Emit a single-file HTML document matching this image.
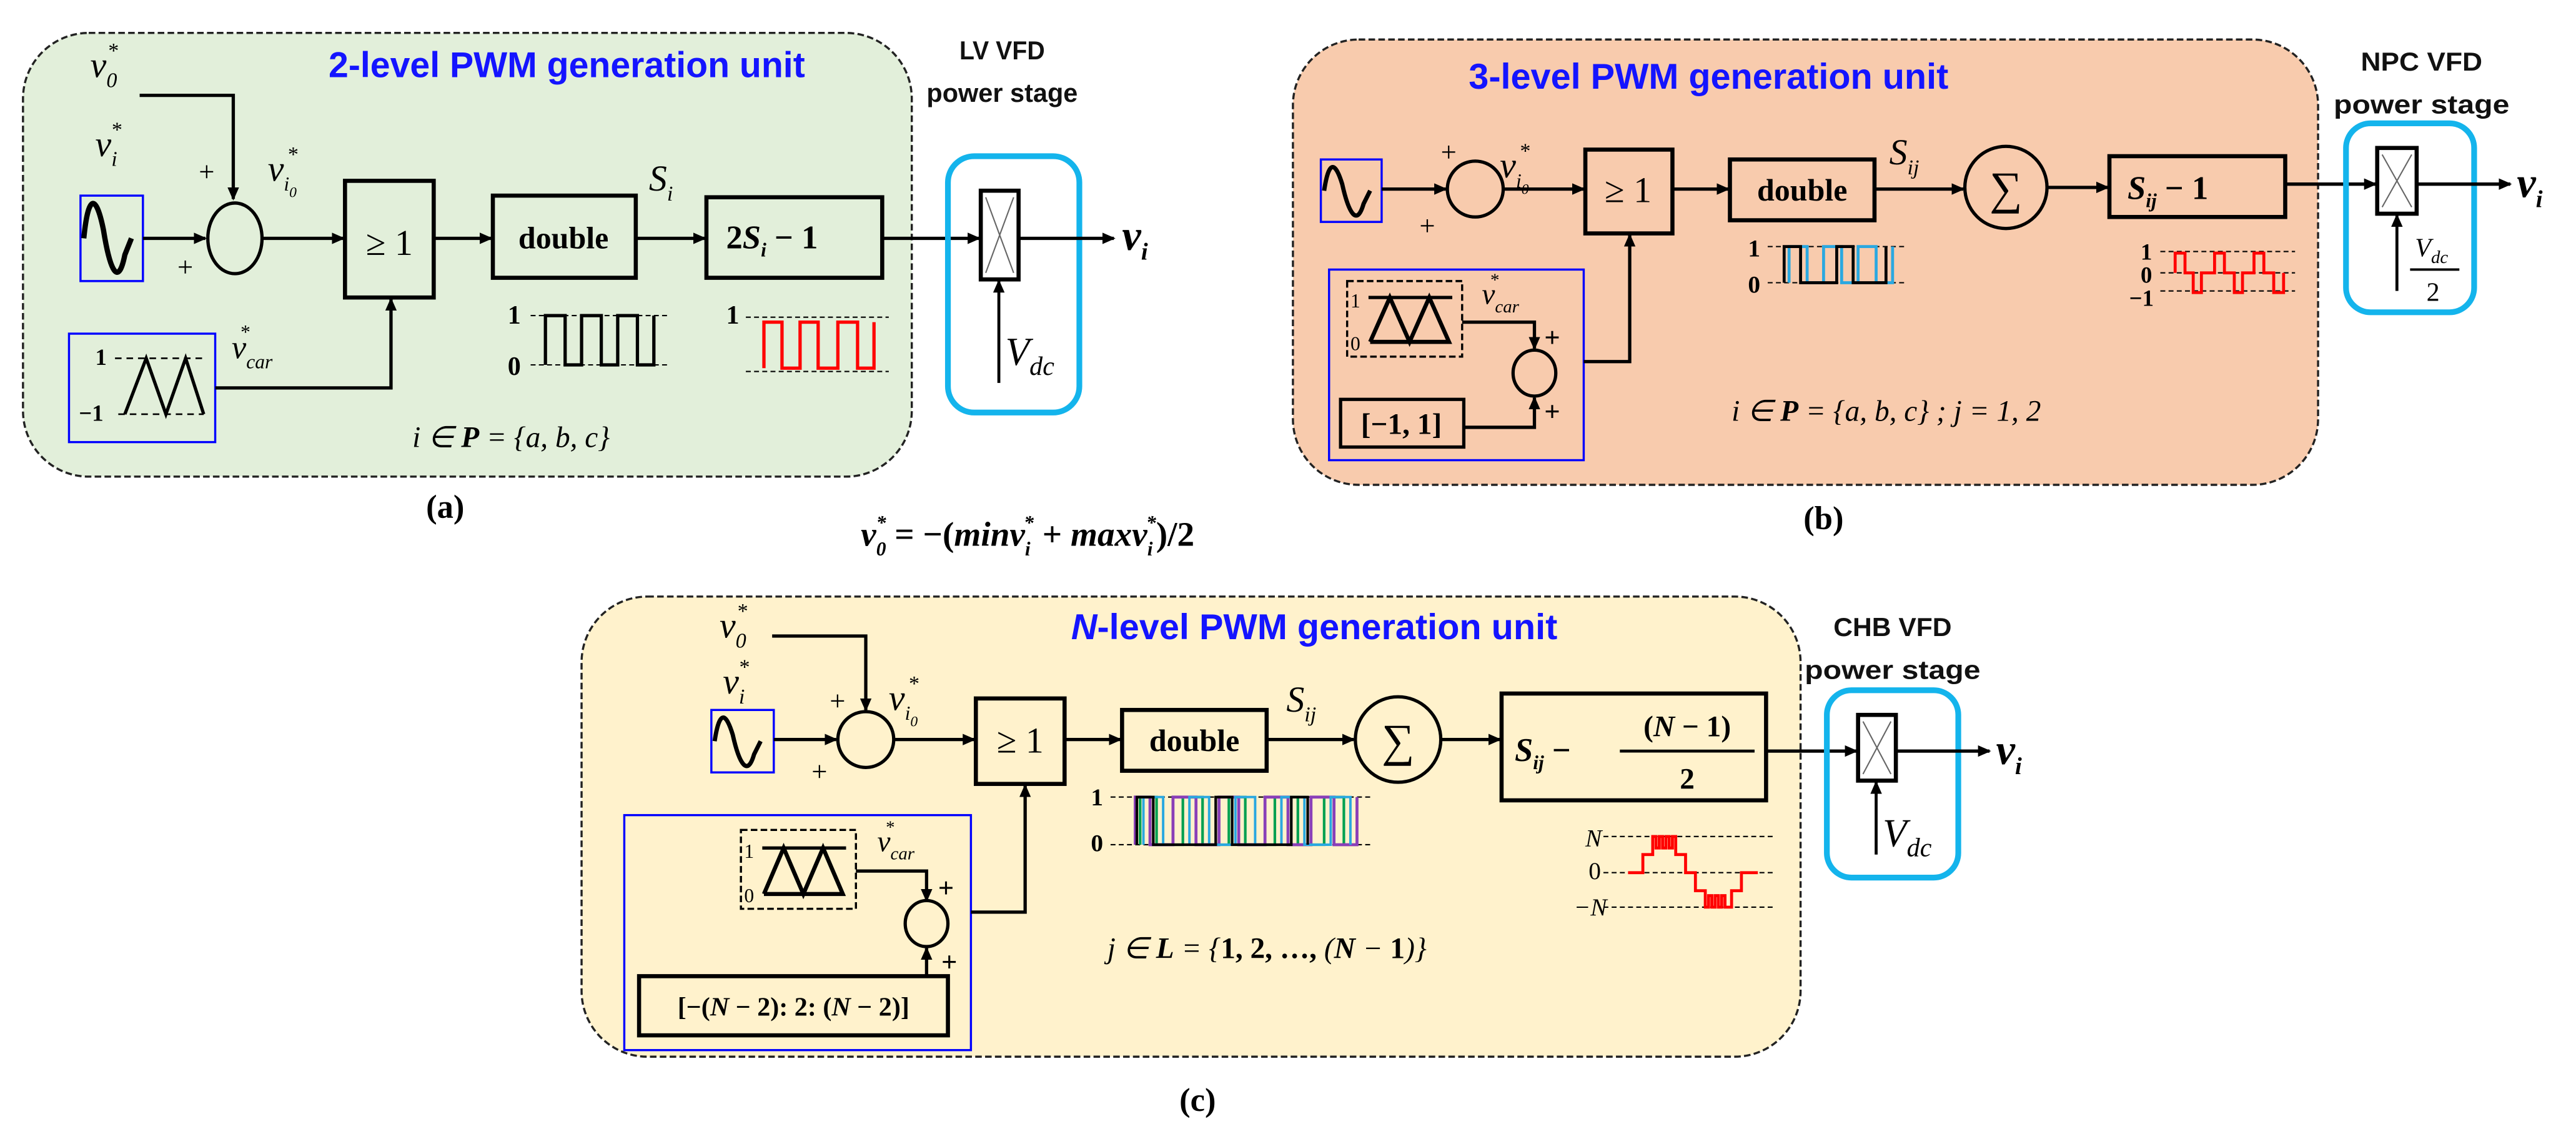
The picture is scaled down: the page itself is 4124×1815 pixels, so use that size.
<!DOCTYPE html>
<html><head><meta charset="utf-8"><style>
html,body{margin:0;padding:0;background:#fff;}
svg{display:block;}
.m{font-family:"Liberation Serif",serif;font-style:italic;}
.r{font-family:"Liberation Serif",serif;}
.t{font-family:"Liberation Sans",sans-serif;font-weight:bold;fill:#1414ff;}
.h{font-family:"Liberation Sans",sans-serif;font-weight:bold;fill:#111;}
</style></head><body>
<svg width="4124" height="1815" viewBox="0 0 1568 690" xmlns="http://www.w3.org/2000/svg">
<defs>
<marker id="a" markerWidth="8" markerHeight="8" refX="7" refY="4" orient="auto" markerUnits="userSpaceOnUse"><path d="M0,0.5 L8,4 L0,7.5 z" fill="#000"/></marker>
</defs>
<g stroke-linecap="butt">
<!-- ===== panel a ===== -->
<rect x="14" y="20" width="541" height="270" rx="40" fill="#e2efda" stroke="#222" stroke-width="1.3" stroke-dasharray="4,2"/>
<text class="t" x="345" y="47" font-size="22" text-anchor="middle" textLength="290" lengthAdjust="spacingAndGlyphs">2-level PWM  generation unit</text>
<text class="h" x="610" y="36" font-size="16" text-anchor="middle" textLength="52" lengthAdjust="spacingAndGlyphs">LV VFD</text>
<text class="h" x="610" y="62" font-size="16" text-anchor="middle" textLength="92" lengthAdjust="spacingAndGlyphs">power stage</text>
<text class="m" x="55" y="47" font-size="22">v<tspan font-size="13" dy="6">0</tspan><tspan font-size="13" dx="-6" dy="-18">*</tspan></text>
<polyline points="85,58 142,58 142,121" fill="none" stroke="#000" stroke-width="2" marker-end="url(#a)"/>
<text class="m" x="58" y="95" font-size="22">v<tspan font-size="13" dy="6">i</tspan><tspan font-size="13" dx="-4" dy="-18">*</tspan></text>
<text class="r" x="121" y="110" font-size="17">+</text>
<text class="r" x="108" y="168" font-size="17">+</text>
<text class="m" x="163" y="110" font-size="22">v<tspan font-size="12" dy="6">i</tspan><tspan font-size="9" dy="4">0</tspan><tspan font-size="13" dx="-6" dy="-22">*</tspan></text>
<rect x="49" y="119" width="38" height="52" fill="none" stroke="#0000ff" stroke-width="1.3"/>
<path d="M51,145 C54,115 59,120 63,140 C67,165 72,175 76,155 L80,145" fill="none" stroke="#000" stroke-width="3.2"/>
<line x1="87" y1="145" x2="125" y2="145" stroke="#000" stroke-width="2" marker-end="url(#a)"/>
<ellipse cx="143" cy="145" rx="16.5" ry="21.5" fill="none" stroke="#000" stroke-width="2"/>
<line x1="160" y1="145" x2="209" y2="145" stroke="#000" stroke-width="2" marker-end="url(#a)"/>
<rect x="210" y="110" width="54" height="71" fill="none" stroke="#000" stroke-width="2.5"/>
<text class="r" x="237" y="155" font-size="22" text-anchor="middle">≥ 1</text>
<line x1="264" y1="145" x2="299" y2="145" stroke="#000" stroke-width="2" marker-end="url(#a)"/>
<rect x="300" y="119" width="87" height="50" fill="none" stroke="#000" stroke-width="2.5"/>
<text class="r" x="343" y="151" font-size="19" font-weight="bold" text-anchor="middle">double</text>
<line x1="387" y1="145" x2="429" y2="145" stroke="#000" stroke-width="2" marker-end="url(#a)"/>
<text class="m" x="395" y="116" font-size="22">S<tspan font-size="13" dy="6">i</tspan></text>
<rect x="430" y="120" width="107" height="49" fill="none" stroke="#000" stroke-width="2.5"/>
<text class="r" x="442" y="151" font-size="20" font-weight="bold">2<tspan font-style="italic">S</tspan><tspan font-size="12" dy="5" font-style="italic">i</tspan><tspan dy="-5">  − 1</tspan></text>
<line x1="537" y1="145" x2="596" y2="145" stroke="#000" stroke-width="2" marker-end="url(#a)"/>
<rect x="577" y="95" width="80" height="156" rx="16" fill="none" stroke="#14b4ec" stroke-width="3.5"/>
<rect x="597" y="116" width="23" height="54" fill="#fff" stroke="#000" stroke-width="2.5"/>
<path d="M600,120 L617,166 M617,120 L600,166" stroke="#666" stroke-width="0.8"/>
<line x1="620" y1="145" x2="678" y2="145" stroke="#000" stroke-width="2" marker-end="url(#a)"/>
<text class="m" x="683" y="152" font-size="26" font-weight="bold">v<tspan font-size="15" dy="6">i</tspan></text>
<line x1="608" y1="233" x2="608" y2="171" stroke="#000" stroke-width="1.8" marker-end="url(#a)"/>
<text class="m" x="612" y="222" font-size="24">V<tspan font-size="16" dy="6">dc</tspan></text>
<rect x="42" y="203" width="89" height="66" fill="none" stroke="#0000ff" stroke-width="1.3"/>
<text class="r" x="58" y="222" font-size="14" font-weight="bold">1</text>
<text class="r" x="48" y="256" font-size="14" font-weight="bold">−1</text>
<path d="M70,218 H124 M72,252 H124" stroke="#000" stroke-width="1" stroke-dasharray="4,3"/>
<polyline points="76,252 89,218 101,252 113,218 124,252" fill="none" stroke="#000" stroke-width="2"/>
<text class="m" x="141" y="218" font-size="20">v<tspan font-size="12" dy="6">car</tspan><tspan font-size="12" dx="-20" dy="-18">*</tspan></text>
<polyline points="131,236 238,236 238,182" fill="none" stroke="#000" stroke-width="2" marker-end="url(#a)"/>
<text class="r" x="309" y="197" font-size="16" font-weight="bold">1</text>
<text class="r" x="309" y="228" font-size="16" font-weight="bold">0</text>
<path d="M323,192 H408 M323,222 H408" stroke="#000" stroke-width="0.8" stroke-dasharray="3,2"/>
<polyline points="332,222 332,192 344,192 344,222 354,222 354,192 366,192 366,222 376,222 376,192 388,192 388,222 398,222 398,192" fill="none" stroke="#000" stroke-width="2"/>
<text class="r" x="442" y="197" font-size="16" font-weight="bold">1</text>
<path d="M454,193 H541 M454,226 H541" stroke="#000" stroke-width="0.8" stroke-dasharray="3,2"/>
<polyline points="465,224 465,196 476,196 476,224 487,224 487,196 498,196 498,224 510,224 510,196 522,196 522,224 532,224 532,196" fill="none" stroke="#ff0000" stroke-width="2"/>
<text class="m" x="251" y="272" font-size="18">i ∈ <tspan font-weight="bold">P</tspan> = {a, b, c}</text>
<text class="r" x="271" y="315" font-size="20" font-weight="bold" text-anchor="middle">(a)</text>

<!-- formula -->
<text class="m" x="524" y="332" font-size="21" font-weight="bold">v<tspan font-size="12" dy="6">0</tspan><tspan font-size="12" dx="-6" dy="-16">*</tspan><tspan dy="10" font-style="normal"> = −(</tspan>minv<tspan font-size="12" dy="6">i</tspan><tspan font-size="12" dx="-4" dy="-16">*</tspan><tspan dy="10" font-style="normal"> + </tspan>maxv<tspan font-size="12" dy="6">i</tspan><tspan font-size="12" dx="-4" dy="-16">*</tspan><tspan dy="10" font-style="normal">)/2</tspan></text>

<!-- ===== panel b ===== -->
<rect x="787" y="24" width="624" height="271" rx="40" fill="#f8cbad" stroke="#222" stroke-width="1.3" stroke-dasharray="4,2"/>
<text class="t" x="1040" y="54" font-size="22" text-anchor="middle" textLength="292" lengthAdjust="spacingAndGlyphs">3-level PWM  generation unit</text>
<text class="h" x="1474" y="43" font-size="16" text-anchor="middle" textLength="74" lengthAdjust="spacingAndGlyphs">NPC VFD</text>
<text class="h" x="1474" y="69" font-size="16" text-anchor="middle" textLength="107" lengthAdjust="spacingAndGlyphs">power stage</text>
<rect x="804" y="97" width="37" height="38" fill="none" stroke="#0000ff" stroke-width="1.3"/>
<path d="M806,116 C809,96 813,99 817,112 C821,130 826,138 830,124 L834,116" fill="none" stroke="#000" stroke-width="2.6"/>
<line x1="841" y1="115" x2="880" y2="115" stroke="#000" stroke-width="2" marker-end="url(#a)"/>
<circle cx="898" cy="115" r="17" fill="none" stroke="#000" stroke-width="2"/>
<text class="r" x="877" y="98" font-size="17">+</text>
<text class="r" x="864" y="143" font-size="17">+</text>
<text class="m" x="913" y="108" font-size="22">v<tspan font-size="12" dy="6">i</tspan><tspan font-size="9" dy="4">0</tspan><tspan font-size="13" dx="-6" dy="-22">*</tspan></text>
<line x1="915" y1="115" x2="964" y2="115" stroke="#000" stroke-width="2" marker-end="url(#a)"/>
<rect x="965" y="91" width="53" height="51" fill="none" stroke="#000" stroke-width="2.5"/>
<text class="r" x="991" y="123" font-size="22" text-anchor="middle">≥ 1</text>
<line x1="1018" y1="115" x2="1052" y2="115" stroke="#000" stroke-width="2" marker-end="url(#a)"/>
<rect x="1053" y="97" width="88" height="37" fill="none" stroke="#000" stroke-width="2.5"/>
<text class="r" x="1097" y="122" font-size="19" font-weight="bold" text-anchor="middle">double</text>
<text class="m" x="1150" y="100" font-size="22">S<tspan font-size="13" dy="6">ij</tspan></text>
<line x1="1141" y1="115" x2="1195" y2="115" stroke="#000" stroke-width="2" marker-end="url(#a)"/>
<circle cx="1221" cy="114" r="25" fill="none" stroke="#000" stroke-width="2"/>
<text class="r" x="1221" y="124" font-size="28" text-anchor="middle">∑</text>
<line x1="1246" y1="114" x2="1283" y2="114" stroke="#000" stroke-width="2" marker-end="url(#a)"/>
<rect x="1284" y="95" width="107" height="37" fill="none" stroke="#000" stroke-width="2.5"/>
<text class="r" x="1295" y="121" font-size="20" font-weight="bold"><tspan font-style="italic">S</tspan><tspan font-size="12" dy="5" font-style="italic">ij</tspan><tspan dy="-5">  − 1</tspan></text>
<line x1="1391" y1="112" x2="1446" y2="112" stroke="#000" stroke-width="2" marker-end="url(#a)"/>
<rect x="1428" y="75" width="78" height="115" rx="15" fill="none" stroke="#14b4ec" stroke-width="3.5"/>
<rect x="1447" y="90" width="24" height="40" fill="#fff" stroke="#000" stroke-width="2.5"/>
<path d="M1450,94 L1468,126 M1468,94 L1450,126" stroke="#666" stroke-width="0.8"/>
<line x1="1471" y1="112" x2="1528" y2="112" stroke="#000" stroke-width="2" marker-end="url(#a)"/>
<text class="m" x="1532" y="120" font-size="26" font-weight="bold">v<tspan font-size="15" dy="6">i</tspan></text>
<line x1="1459" y1="177" x2="1459" y2="131" stroke="#000" stroke-width="1.8" marker-end="url(#a)"/>
<text class="m" x="1470" y="156" font-size="16">V<tspan font-size="11" dy="4">dc</tspan></text>
<line x1="1467" y1="164" x2="1497" y2="164" stroke="#000" stroke-width="1.5"/>
<text class="r" x="1481" y="183" font-size="16" text-anchor="middle">2</text>
<text class="r" x="1064" y="156" font-size="15" font-weight="bold">1</text>
<text class="r" x="1064" y="178" font-size="15" font-weight="bold">0</text>
<path d="M1076,150 H1160 M1076,172 H1160" stroke="#000" stroke-width="0.8" stroke-dasharray="3,2"/>
<polyline points="1089,172 1089,150 1100,150 1100,172 1110,172 1110,150 1121,150 1121,172 1131,172 1131,150 1142,150 1142,172 1152,172 1152,150" fill="none" stroke="#2aa8e0" stroke-width="1.8"/>
<polyline points="1086,172 1086,150 1096,150 1096,172 1118,172 1118,150 1128,150 1128,172 1148,172 1148,150" fill="none" stroke="#000" stroke-width="1.8"/>
<text class="r" x="1303" y="158" font-size="14" font-weight="bold">1</text>
<text class="r" x="1303" y="172" font-size="14" font-weight="bold">0</text>
<text class="r" x="1296" y="186" font-size="14" font-weight="bold">−1</text>
<path d="M1315,153 H1397 M1315,166 H1397 M1315,177 H1397" stroke="#000" stroke-width="0.8" stroke-dasharray="3,2"/>
<polyline points="1324,166 1324,154 1330,154 1330,166 1335,166 1335,178 1340,178 1340,166 1348,166 1348,154 1354,154 1354,166 1360,166 1360,178 1365,178 1365,166 1372,166 1372,154 1378,154 1378,166 1384,166 1384,178 1390,178 1390,166" fill="none" stroke="#ff0000" stroke-width="1.8"/>
<rect x="809" y="164" width="155" height="116" fill="none" stroke="#0000ff" stroke-width="1.3"/>
<rect x="820" y="171" width="70" height="46" fill="none" stroke="#000" stroke-width="1.3" stroke-dasharray="4,2"/>
<text class="r" x="822" y="187" font-size="12">1</text>
<text class="r" x="822" y="213" font-size="12">0</text>
<line x1="833" y1="181" x2="884" y2="181" stroke="#000" stroke-width="2"/>
<polyline points="834,208 846,181 858,208 870,181 882,208 834,208" fill="none" stroke="#000" stroke-width="2.5"/>
<text class="m" x="902" y="185" font-size="18">v<tspan font-size="11" dy="5">car</tspan><tspan font-size="11" dx="-18" dy="-16">*</tspan></text>
<polyline points="890,196 934,196 934,212" fill="none" stroke="#000" stroke-width="2" marker-end="url(#a)"/>
<ellipse cx="934" cy="227" rx="13" ry="14" fill="none" stroke="#000" stroke-width="2"/>
<text class="r" x="940" y="211" font-size="17" font-weight="bold">+</text>
<text class="r" x="940" y="256" font-size="17" font-weight="bold">+</text>
<rect x="816" y="243" width="75" height="29" fill="none" stroke="#000" stroke-width="2"/>
<text class="r" x="853" y="264" font-size="18" font-weight="bold" text-anchor="middle">[−1, 1]</text>
<polyline points="891,260 934,260 934,242" fill="none" stroke="#000" stroke-width="2" marker-end="url(#a)"/>
<polyline points="964,220 992,220 992,143" fill="none" stroke="#000" stroke-width="2" marker-end="url(#a)"/>
<text class="m" x="1054" y="256" font-size="18">i ∈ <tspan font-weight="bold">P</tspan> = {a, b, c} ;  j = 1, 2</text>
<text class="r" x="1110" y="322" font-size="20" font-weight="bold" text-anchor="middle">(b)</text>

<!-- ===== panel c ===== -->
<rect x="354" y="363" width="742" height="280" rx="40" fill="#fff2cc" stroke="#222" stroke-width="1.3" stroke-dasharray="4,2"/>
<text class="t" x="800" y="389" font-size="22" text-anchor="middle" textLength="296" lengthAdjust="spacingAndGlyphs"><tspan font-style="italic">N</tspan>-level PWM  generation unit</text>
<text class="h" x="1152" y="387" font-size="16" text-anchor="middle" textLength="72" lengthAdjust="spacingAndGlyphs">CHB VFD</text>
<text class="h" x="1152" y="413" font-size="16" text-anchor="middle" textLength="107" lengthAdjust="spacingAndGlyphs">power stage</text>
<text class="m" x="438" y="388" font-size="22">v<tspan font-size="13" dy="6">0</tspan><tspan font-size="13" dx="-6" dy="-18">*</tspan></text>
<polyline points="470,387 527,387 527,432" fill="none" stroke="#000" stroke-width="2" marker-end="url(#a)"/>
<text class="m" x="440" y="422" font-size="22">v<tspan font-size="13" dy="6">i</tspan><tspan font-size="13" dx="-4" dy="-18">*</tspan></text>
<text class="r" x="505" y="432" font-size="17">+</text>
<text class="r" x="494" y="475" font-size="17">+</text>
<text class="m" x="541" y="432" font-size="22">v<tspan font-size="12" dy="6">i</tspan><tspan font-size="9" dy="4">0</tspan><tspan font-size="13" dx="-6" dy="-22">*</tspan></text>
<rect x="433" y="432" width="38" height="38" fill="none" stroke="#0000ff" stroke-width="1.3"/>
<path d="M435,451 C438,431 442,434 446,447 C450,465 455,473 459,459 L463,451" fill="none" stroke="#000" stroke-width="2.6"/>
<line x1="471" y1="450" x2="509" y2="450" stroke="#000" stroke-width="2" marker-end="url(#a)"/>
<circle cx="527" cy="450" r="17" fill="none" stroke="#000" stroke-width="2"/>
<line x1="544" y1="450" x2="593" y2="450" stroke="#000" stroke-width="2" marker-end="url(#a)"/>
<rect x="594" y="425" width="54" height="52" fill="none" stroke="#000" stroke-width="2.5"/>
<text class="r" x="621" y="458" font-size="22" text-anchor="middle">≥ 1</text>
<line x1="648" y1="450" x2="682" y2="450" stroke="#000" stroke-width="2" marker-end="url(#a)"/>
<rect x="683" y="432" width="88" height="37" fill="none" stroke="#000" stroke-width="2.5"/>
<text class="r" x="727" y="457" font-size="19" font-weight="bold" text-anchor="middle">double</text>
<text class="m" x="783" y="433" font-size="22">S<tspan font-size="13" dy="6">ij</tspan></text>
<line x1="771" y1="450" x2="824" y2="450" stroke="#000" stroke-width="2" marker-end="url(#a)"/>
<circle cx="851" cy="450" r="26" fill="none" stroke="#000" stroke-width="2"/>
<text class="r" x="851" y="460" font-size="28" text-anchor="middle">∑</text>
<line x1="877" y1="450" x2="913" y2="450" stroke="#000" stroke-width="2" marker-end="url(#a)"/>
<rect x="914" y="422" width="161" height="65" fill="none" stroke="#000" stroke-width="2.5"/>
<text class="r" x="922" y="463" font-size="20" font-weight="bold"><tspan font-style="italic">S</tspan><tspan font-size="12" dy="5" font-style="italic">ij</tspan><tspan dy="-5">  −</tspan></text>
<text class="r" x="1027" y="448" font-size="18" font-weight="bold" text-anchor="middle">(<tspan font-style="italic">N</tspan> − 1)</text>
<line x1="986" y1="457" x2="1068" y2="457" stroke="#000" stroke-width="1.8"/>
<text class="r" x="1027" y="480" font-size="18" font-weight="bold" text-anchor="middle">2</text>
<line x1="1075" y1="457" x2="1130" y2="457" stroke="#000" stroke-width="2" marker-end="url(#a)"/>
<rect x="1112" y="420" width="80" height="114" rx="15" fill="none" stroke="#14b4ec" stroke-width="3.5"/>
<rect x="1131" y="435" width="23" height="40" fill="#fff" stroke="#000" stroke-width="2.5"/>
<path d="M1134,439 L1151,471 M1151,439 L1134,471" stroke="#666" stroke-width="0.8"/>
<line x1="1154" y1="457" x2="1211" y2="457" stroke="#000" stroke-width="2" marker-end="url(#a)"/>
<text class="m" x="1215" y="465" font-size="26" font-weight="bold">v<tspan font-size="15" dy="6">i</tspan></text>
<line x1="1142" y1="520" x2="1142" y2="476" stroke="#000" stroke-width="1.8" marker-end="url(#a)"/>
<text class="m" x="1146" y="515" font-size="24">V<tspan font-size="16" dy="6">dc</tspan></text>
<text class="r" x="664" y="490" font-size="15" font-weight="bold">1</text>
<text class="r" x="664" y="518" font-size="15" font-weight="bold">0</text>
<path d="M676,485 H834 M676,514 H834" stroke="#000" stroke-width="0.8" stroke-dasharray="3,2"/>
<polyline points="694,514 694,485 704,485 704,514 720,514 720,485 732,485 732,514 748,514 748,485 758,485 758,514 776,514 776,485 790,485 790,514 806,514 806,485 818,485 818,514" fill="none" stroke="#00a050" stroke-width="1.6"/>
<polyline points="691,514 691,485 700,485 700,514 714,514 714,485 728,485 728,514 742,514 742,485 754,485 754,514 770,514 770,485 784,485 784,514 798,514 798,485 812,485 812,514 826,514 826,485" fill="none" stroke="#8a3fb8" stroke-width="1.8"/>
<polyline points="696,514 696,485 708,485 708,514 724,514 724,485 736,485 736,514 752,514 752,485 764,485 764,514 780,514 780,485 794,485 794,514 810,514 810,485 822,485 822,514" fill="none" stroke="#2aa8e0" stroke-width="1.5"/>
<polyline points="692,514 692,485 702,485 702,514 740,514 740,485 750,485 750,514 786,514 786,485 796,485 796,514" fill="none" stroke="#000" stroke-width="1.6"/>
<text class="m" x="965" y="515" font-size="15">N</text>
<text class="r" x="967" y="535" font-size="15">0</text>
<text class="m" x="958" y="557" font-size="15">−N</text>
<path d="M976,509 H1081 M976,531 H1081 M976,552 H1081" stroke="#000" stroke-width="0.8" stroke-dasharray="3,2"/>
<polyline points="991,531 1000,531 1000,520 1006,520 1006,509 1008,509 1008,516 1010,516 1010,509 1012,509 1012,516 1014,516 1014,509 1016,509 1016,516 1018,516 1018,509 1020,509 1020,520 1026,520 1026,531 1032,531 1032,542 1038,542 1038,552 1040,552 1040,545 1042,545 1042,552 1044,552 1044,545 1046,545 1046,552 1048,552 1048,545 1050,545 1050,552 1054,552 1054,542 1060,542 1060,531 1070,531" fill="none" stroke="#ff0000" stroke-width="1.8"/>
<rect x="380" y="496" width="211" height="143" fill="none" stroke="#0000ff" stroke-width="1.3"/>
<rect x="451" y="505" width="70" height="48" fill="none" stroke="#000" stroke-width="1.3" stroke-dasharray="4,2"/>
<text class="r" x="453" y="522" font-size="12">1</text>
<text class="r" x="453" y="549" font-size="12">0</text>
<line x1="464" y1="516" x2="515" y2="516" stroke="#000" stroke-width="2"/>
<polyline points="465,544 477,516 489,544 501,516 513,544 465,544" fill="none" stroke="#000" stroke-width="2.5"/>
<text class="m" x="534" y="518" font-size="18">v<tspan font-size="11" dy="5">car</tspan><tspan font-size="11" dx="-18" dy="-16">*</tspan></text>
<polyline points="521,530 564,530 564,548" fill="none" stroke="#000" stroke-width="2" marker-end="url(#a)"/>
<ellipse cx="564" cy="562" rx="13" ry="14" fill="none" stroke="#000" stroke-width="2"/>
<text class="r" x="571" y="546" font-size="17" font-weight="bold">+</text>
<text class="r" x="573" y="591" font-size="17" font-weight="bold">+</text>
<rect x="389" y="594" width="188" height="36" fill="none" stroke="#000" stroke-width="2.5"/>
<text class="r" x="483" y="618" font-size="16" font-weight="bold" text-anchor="middle">[−(<tspan font-style="italic">N</tspan> − 2): 2: (<tspan font-style="italic">N</tspan> − 2)]</text>
<line x1="564" y1="594" x2="564" y2="577" stroke="#000" stroke-width="2" marker-end="url(#a)"/>
<polyline points="591,555 624,555 624,478" fill="none" stroke="#000" stroke-width="2" marker-end="url(#a)"/>
<text class="m" x="674" y="583" font-size="18">j ∈ <tspan font-weight="bold">L</tspan> = {<tspan font-weight="bold" font-style="normal">1, 2, …, </tspan>(<tspan font-weight="bold">N</tspan> − <tspan font-style="normal" font-weight="bold">1</tspan>)}</text>
<text class="r" x="729" y="676" font-size="20" font-weight="bold" text-anchor="middle">(c)</text>
</g>
</svg>
</body></html>
